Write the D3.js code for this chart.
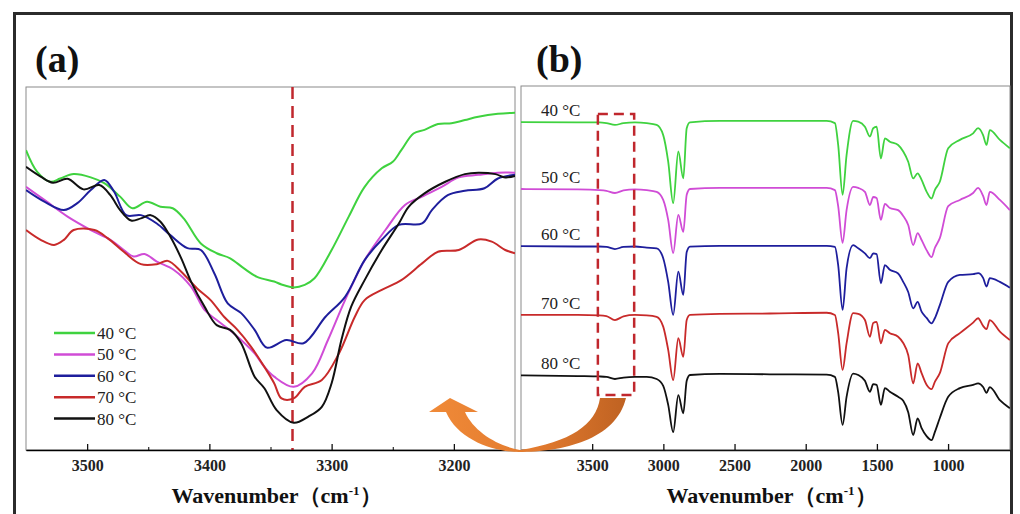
<!DOCTYPE html>
<html>
<head>
<meta charset="utf-8">
<script src="https://cdn.jsdelivr.net/npm/d3@7"></script>
<style>
  body { margin: 0; background: #fff; }
  svg { display: block; }
</style>
</head>
<body>
<svg id="chart" width="1020" height="514"></svg>
<script>
// ---- data ----
const temps = ["40 °C", "50 °C", "60 °C", "70 °C", "80 °C"];
const colors = ["#3fd23f", "#d04cd6", "#1e1e9c", "#c82a2a", "#111111"];

// panel (a): O-H band, [wavenumber, transmittance (a.u.)]
const a40 = [[3550,82.6],[3541,76.7],[3530,73.9],[3522,74.8],[3511,76.0],[3497,75.1],[3486,73.5],[3473,69.8],[3463,66.6],[3451,68.4],[3440,67.0],[3430,66.6],[3421,63.8],[3407,56.9],[3394,54.2],[3383,52.8],[3372,50.1],[3361,47.7],[3347,46.4],[3341,45.6],[3331,44.8],[3322,45.5],[3314,47.3],[3300,55.1],[3286,64.3],[3273,72.5],[3259,77.6],[3250,79.4],[3243,82.6],[3233,87.2],[3224,88.2],[3213,89.8],[3202,90.0],[3191,90.9],[3180,91.8],[3164,92.6],[3150,92.9]];
const a50 = [[3550,72.5],[3535,68.9],[3516,64.3],[3497,60.6],[3481,57.9],[3470,55.1],[3462,53.3],[3453,54.0],[3443,51.9],[3429,49.6],[3415,45.0],[3404,38.6],[3394,35.8],[3380,32.1],[3363,26.6],[3355,22.9],[3347,20.2],[3331,17.4],[3316,21.1],[3303,30.3],[3289,41.3],[3273,52.3],[3256,60.6],[3240,67.5],[3226,69.8],[3210,72.5],[3196,75.1],[3180,75.8],[3164,76.4],[3150,76.4]];
const a60 = [[3550,71.6],[3535,68.4],[3519,66.1],[3508,68.0],[3497,71.6],[3486,74.4],[3478,71.2],[3468,64.7],[3456,64.7],[3443,62.4],[3432,59.2],[3418,55.6],[3407,55.1],[3396,48.7],[3385,40.4],[3374,37.7],[3363,33.1],[3353,28.2],[3337,30.3],[3323,29.4],[3305,36.7],[3289,42.2],[3273,52.3],[3259,57.9],[3245,62.0],[3226,62.4],[3218,66.1],[3205,70.2],[3191,71.4],[3175,72.1],[3164,74.8],[3150,75.8]];
const a70 = [[3550,60.6],[3538,57.9],[3527,56.5],[3519,57.9],[3511,60.6],[3494,60.6],[3483,58.3],[3470,54.6],[3456,51.2],[3443,51.2],[3434,52.1],[3423,49.1],[3410,44.5],[3399,41.3],[3388,36.7],[3377,33.1],[3366,28.5],[3355,22.9],[3347,18.4],[3341,14.2],[3331,14.2],[3322,17.4],[3308,19.3],[3294,26.6],[3281,36.7],[3273,41.3],[3259,44.1],[3243,46.8],[3226,51.4],[3213,54.6],[3196,55.1],[3180,58.0],[3169,57.4],[3158,55.1],[3150,54.2]];
const a80 = [[3550,78.0],[3538,75.3],[3528,73.6],[3516,74.7],[3503,71.8],[3490,73.0],[3481,70.2],[3473,66.1],[3464,63.2],[3456,63.8],[3448,64.7],[3440,62.9],[3432,58.8],[3423,52.8],[3415,46.4],[3404,39.5],[3394,34.4],[3383,33.1],[3374,29.4],[3363,20.2],[3355,17.0],[3345,11.0],[3331,7.5],[3319,9.2],[3308,11.9],[3300,18.4],[3292,30.3],[3284,39.5],[3273,46.8],[3259,55.1],[3245,62.4],[3237,67.0],[3224,70.7],[3207,73.9],[3191,76.0],[3180,76.4],[3166,76.0],[3158,75.1],[3150,75.5]];

// panel (b): full spectra (stacked), shared wavenumber grid
const waveB = [4000,3600,3450,3400,3340,3280,3200,3117,3047,3001,2966,2931,2895,2860,2836,2813,2603,2252,1853,1795,1772,1741,1713,1667,1631,1584,1549,1526,1502,1472,1444,1409,1351,1315,1280,1245,1214,1186,1151,1116,1093,1058,999,917,824,789,754,730,707,636,566];
const b40 = [90.1,90.0,90.0,89.8,89.3,89.8,90.0,89.8,89.3,86.5,79.2,67.8,82.0,74.6,88.4,90.0,90.4,90.4,90.4,89.8,83.8,70.1,81.0,90.4,90.2,88.8,86.1,88.4,88.8,80.1,85.6,84.7,83.8,82.0,79.2,74.6,76.0,74.2,71.0,69.1,71.4,73.7,82.9,85.2,87.0,88.4,86.5,83.8,87.9,85.2,82.9];
const b50 = [71.7,71.6,71.4,71.2,70.6,71.3,71.6,71.4,70.9,68.7,63.2,54.1,64.6,59.9,70.1,71.7,72.0,72.0,72.0,71.4,67.0,56.9,65.9,72.3,72.0,70.9,67.3,69.5,69.2,63.2,67.6,66.5,65.9,64.3,61.8,56.3,59.6,57.7,54.9,53.0,55.5,58.2,67.0,68.7,70.6,72.0,69.8,67.3,70.9,68.7,65.9];
const b60 = [56.0,55.9,55.9,55.8,55.2,55.8,55.9,55.6,55.4,52.7,46.2,37.1,49.0,42.6,54.4,55.9,56.1,56.1,56.1,55.8,50.8,38.5,49.9,56.3,55.4,54.0,52.7,54.0,53.8,45.8,50.8,49.5,48.5,46.2,43.4,38.9,40.7,38.0,36.3,34.8,36.2,39.8,46.2,48.1,48.3,48.6,47.3,44.9,47.2,46.2,44.6];
const b70 = [37.1,37.1,37.0,36.8,35.7,36.7,37.1,37.0,36.6,33.9,27.5,19.2,30.7,25.6,35.7,37.1,37.4,37.5,37.7,37.1,32.1,22.0,29.3,37.6,37.4,35.7,31.1,34.9,35.2,29.3,33.0,32.1,31.1,29.4,26.1,18.3,23.8,21.1,17.9,16.7,18.7,21.1,29.3,32.1,35.0,36.2,34.1,33.2,35.7,32.5,30.2];
const b80 = [20.5,20.3,20.2,20.1,19.5,19.9,20.1,20.1,19.5,17.6,12.4,4.9,15.1,10.1,19.0,20.6,20.9,20.8,20.7,20.1,15.9,6.9,14.6,21.0,20.6,19.0,16.0,18.1,17.9,12.4,17.0,16.0,14.6,13.5,10.4,4.1,8.7,6.0,3.8,2.7,4.9,8.8,14.6,17.0,17.9,18.3,17.3,15.7,17.3,13.7,11.5];

const ticksA = [3500, 3400, 3300, 3200];
const minorA = [3450, 3350, 3250];
const ticksB = [3500, 3000, 2500, 2000, 1500, 1000];
const peakLine = 3332;          // dashed marker in (a)
const boxWave = [3460, 3205];   // zoom window marked in (b)
const boxLevel = [92.3, 15.1];

// ---- layout ----
const svg = d3.select("#chart");
const serif = "'Liberation Serif','Times New Roman',serif";
const seriesA = [a40, a50, a60, a70, a80];
const seriesB = [b40, b50, b60, b70, b80];

const pa = {left: 26, right: 515, top: 87, bottom: 450};
const pb = {left: 521, right: 1010, top: 86, bottom: 450};

const xA = d3.scaleLinear().domain([3550, 3150]).range([pa.left, pa.right]);
const yA = d3.scaleLinear().domain([0, 100]).range([pa.bottom, pa.top]);
const xB = d3.scaleLinear().domain([4000, 565]).range([pb.left, pb.right]);
const yB = d3.scaleLinear().domain([0, 100]).range([pb.bottom, pb.top]);

// outer frame
svg.append("rect")
  .attr("x", 14.5).attr("y", 13.5)
  .attr("width", 997).attr("height", 520)
  .attr("fill", "none").attr("stroke", "#2b2b2b").attr("stroke-width", 3);

// plot boxes
[pa, pb].forEach(p => {
  svg.append("rect")
    .attr("x", p.left).attr("y", p.top)
    .attr("width", p.right - p.left).attr("height", p.bottom - p.top)
    .attr("fill", "none").attr("stroke", "#8a8a8a").attr("stroke-width", 1);
});

const defs = svg.append("defs");
defs.append("clipPath").attr("id", "clipA").append("rect")
  .attr("x", pa.left).attr("y", pa.top).attr("width", pa.right - pa.left).attr("height", pa.bottom - pa.top);
defs.append("clipPath").attr("id", "clipB").append("rect")
  .attr("x", pb.left).attr("y", pb.top).attr("width", pb.right - pb.left).attr("height", pb.bottom - pb.top);

// ---- panel (a) ----
const lineA = d3.line()
  .x(d => xA(d[0]))
  .y(d => yA(d[1]))
  .curve(d3.curveCatmullRom.alpha(0.5));

svg.append("line")
  .attr("x1", xA(peakLine)).attr("x2", xA(peakLine))
  .attr("y1", pa.top).attr("y2", pa.bottom)
  .attr("stroke", "#c0272d").attr("stroke-width", 2.5)
  .attr("stroke-dasharray", "12,7");

svg.append("g").attr("clip-path", "url(#clipA)")
  .selectAll("path")
  .data(seriesA)
  .enter().append("path")
    .attr("d", lineA)
    .attr("fill", "none")
    .attr("stroke", (d, i) => colors[i])
    .attr("stroke-width", 2);

const fmt = d3.format("d");
const axisA = svg.append("g")
  .attr("transform", `translate(0,${pa.bottom})`)
  .call(d3.axisBottom(xA).tickValues(ticksA).tickFormat(fmt).tickSizeInner(-6).tickSizeOuter(0).tickPadding(10));
svg.append("g")
  .attr("transform", `translate(0,${pa.bottom})`)
  .call(d3.axisBottom(xA).tickValues(minorA).tickSizeInner(-3).tickSizeOuter(0).tickFormat(""));

// legend
const leg = svg.append("g");
temps.forEach((t, i) => {
  const y = 333 + i * 21.4;
  leg.append("line")
    .attr("x1", 54).attr("x2", 95).attr("y1", y).attr("y2", y)
    .attr("stroke", colors[i]).attr("stroke-width", 2.5);
  leg.append("text")
    .attr("x", 97).attr("y", y + 6)
    .attr("font-family", serif).attr("font-size", 17)
    .attr("fill", "#222")
    .text(t);
});

// ---- panel (b) ----
const lineB = d3.line()
  .x((d, i) => xB(waveB[i]))
  .y(d => yB(d))
  .curve(d3.curveMonotoneX);

svg.append("g").attr("clip-path", "url(#clipB)")
  .selectAll("path")
  .data(seriesB)
  .enter().append("path")
    .attr("d", lineB)
    .attr("fill", "none")
    .attr("stroke", (d, i) => colors[i])
    .attr("stroke-width", 1.8);

svg.append("g")
  .selectAll("text")
  .data(seriesB)
  .enter().append("text")
    .attr("x", 541)
    .attr("y", d => yB(d[0]) - 6)
    .attr("font-family", serif).attr("font-size", 17)
    .attr("fill", "#222")
    .text((d, i) => temps[i]);

const axisB = svg.append("g")
  .attr("transform", `translate(0,${pb.bottom})`)
  .call(d3.axisBottom(xB).tickValues(ticksB).tickFormat(fmt).tickSizeInner(-6).tickSizeOuter(0).tickPadding(10));

// dashed zoom window
svg.append("rect")
  .attr("x", xB(boxWave[0])).attr("y", yB(boxLevel[0]))
  .attr("width", xB(boxWave[1]) - xB(boxWave[0]))
  .attr("height", yB(boxLevel[1]) - yB(boxLevel[0]))
  .attr("fill", "none")
  .attr("stroke", "#c0272d").attr("stroke-width", 2.5)
  .attr("stroke-dasharray", "10,6");

// axis styling
[axisA, axisB].forEach(g => {
  g.select(".domain").attr("stroke", "#111").attr("stroke-width", 1.6);
  g.selectAll(".tick line").attr("stroke", "#111").attr("stroke-width", 1.3);
  g.selectAll("text")
    .attr("font-family", serif).attr("font-size", 16)
    .attr("font-weight", "bold").attr("fill", "#222");
});

// curved arrow linking (b) window to (a)
const grad = defs.append("linearGradient").attr("id", "arrowGrad")
  .attr("x1", "0%").attr("x2", "100%").attr("y1", "0%").attr("y2", "0%");
grad.append("stop").attr("offset", "0%").attr("stop-color", "#f08a38");
grad.append("stop").attr("offset", "55%").attr("stop-color", "#e27a2e");
grad.append("stop").attr("offset", "100%").attr("stop-color", "#bf6222");

svg.append("path")
  .attr("d", "M626,398 L600,398 C596,425 570,442 520,450 C498,446 474,432 465,412 L478,412 L450,398 L429,412 L446,412 C458,440 494,452 519,452 C562,452 616,440 626,398 Z")
  .attr("fill", "url(#arrowGrad)");

// panel letters and axis titles
[["(a)", 35], ["(b)", 536]].forEach(([t, x]) => {
  svg.append("text")
    .attr("x", x).attr("y", 72)
    .attr("font-family", serif).attr("font-size", 38).attr("font-weight", "bold")
    .attr("fill", "#111")
    .text(t);
});

[(pa.left + pa.right) / 2 + 6, (pb.left + pb.right) / 2 + 6].forEach(cx => {
  const t = svg.append("text")
    .attr("x", cx).attr("y", 503)
    .attr("text-anchor", "middle")
    .attr("font-family", serif).attr("font-size", 22).attr("font-weight", "bold")
    .attr("fill", "#111");
  t.append("tspan").text("Wavenumber（cm");
  t.append("tspan").attr("font-size", 13).attr("dy", -8).text("-1");
  t.append("tspan").attr("dy", 8).text("）");
});
</script>
</body>
</html>
